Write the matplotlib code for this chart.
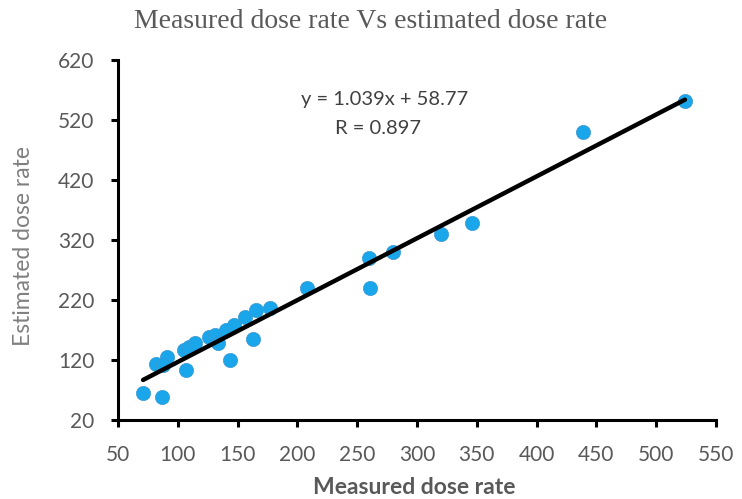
import numpy as np
import matplotlib
matplotlib.use('Agg')
import matplotlib.pyplot as plt

# measured vs estimated dose rate
measured = [71, 87, 82, 91, 88, 107, 105, 109, 114, 126, 131, 134, 140, 147, 144,
            156, 165, 177, 163, 208, 260, 261, 280, 320, 346, 439, 524]
estimated = [65, 59, 113, 125, 112, 103, 137, 141, 148, 158, 162, 149, 170, 178, 120,
             191, 203, 206, 155, 240, 290, 240, 300, 330, 349, 500, 552]

x_ticks = [50, 100, 150, 200, 250, 300, 350, 400, 450, 500, 550]
y_ticks = [20, 120, 220, 320, 420, 520, 620]

equation = 'y = 1.039x + 58.77'
r_text = 'R = 0.897'

grey = '#595959'
sans = ['Lato', 'DejaVu Sans']

fig = plt.figure(figsize=(7.42, 4.99), dpi=100)
ax = fig.add_axes([0.159, 0.1583, 0.806, 0.7215])

x = np.array(measured)
y = np.array(estimated)
slope, icpt = np.polyfit(x, y, 1)
xs = np.array([x.min(), x.max()])

ax.scatter(x, y, s=105, color='#1aa6ea', edgecolors='#3d97d0', linewidths=0.5, zorder=2)
ax.plot(xs, slope * xs + icpt, color='black', lw=3.2, solid_capstyle='round', zorder=3)

ax.set_xlim(50, 550)
ax.set_ylim(20, 620)
ax.set_xticks(x_ticks)
ax.set_yticks(y_ticks)

for s in ['top', 'right']:
    ax.spines[s].set_visible(False)
for s in ['left', 'bottom']:
    ax.spines[s].set_linewidth(2.2)
ax.tick_params(direction='out', length=5, width=2.2, colors='black')
ax.tick_params(axis='x', pad=13)
ax.tick_params(axis='y', pad=12)
for lbl in ax.get_xticklabels() + ax.get_yticklabels():
    lbl.set_fontfamily(sans)
    lbl.set_fontsize(15)
    lbl.set_color(grey)

ax.set_xlabel('Measured dose rate', fontsize=16.5, fontweight='bold', color=grey, family=sans)
ax.set_ylabel('Estimated dose rate', fontsize=16.5, color='#7f7f7f', family=sans)
ax.xaxis.set_label_coords(0.495, -0.187)
ax.xaxis.label.set_va('center')
ax.yaxis.set_label_coords(-0.158, 0.483)
ax.yaxis.label.set_va('center')

fig.text(0.5, 0.957, 'Measured dose rate Vs estimated dose rate', ha='center', va='center',
         fontsize=20, color=grey, family=['Liberation Serif', 'DejaVu Serif'])

ax.text(0.445, 0.889, equation, transform=ax.transAxes, ha='center', va='center',
        fontsize=14.5, color='#404040', family=sans)
ax.text(0.435, 0.811, r_text, transform=ax.transAxes, ha='center', va='center',
        fontsize=14.5, color='#404040', family=sans)

fig.savefig('out.png', dpi=100)
